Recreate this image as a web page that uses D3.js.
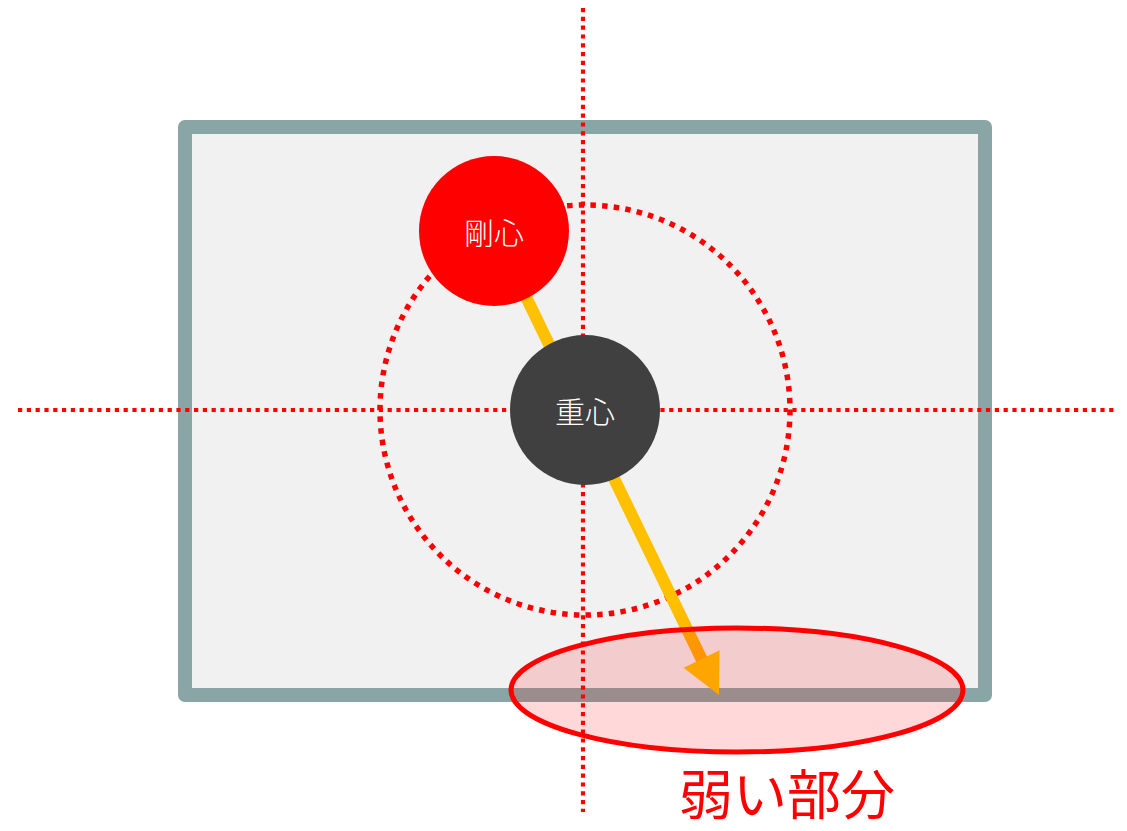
<!DOCTYPE html>
<html><head><meta charset="utf-8">
<script src="https://cdn.jsdelivr.net/npm/d3@7"></script>
<style>html,body{margin:0;padding:0;background:#fff;}svg{display:block;}</style>
</head><body>
<script>
// Diagram data in building units (centre of gravity at origin)
const building = [[-4, 2.83], [4, -2.85]];            // plan corners
const centerLabels = ["剛心", "重心"];
const centerPoints = [[-0.91, 1.79], [0, 0]];
const axisLinesX = [-5.67, 5.32];                        // horizontal dotted axis extent
const axisLinesY = [4.02, -4.02];                        // vertical dotted axis extent
const eccentricCircleR = [2.05];
const arrowTip = [1.34, -2.85];
const weakZone = [[1.52, -2.8], [2.26, 0.62]];           // centre, radii
const weakLabel = ["弱い部分"];

const W = 1127, H = 831;
const x = d3.scaleLinear().domain([-1, 1]).range([485, 685]);
const y = d3.scaleLinear().domain([-1, 1]).range([510, 310]);
const k = x(1) - x(0);

const svg = d3.select("body").append("svg").attr("width", W).attr("height", H);
const defs = svg.append("defs");

// building plan
svg.append("rect")
  .attr("x", x(building[0][0])).attr("y", y(building[0][1]))
  .attr("width", x(building[1][0]) - x(building[0][0]))
  .attr("height", y(building[1][1]) - y(building[0][1]))
  .attr("fill", "#f1f1f1").attr("stroke", "#8aa5a6").attr("stroke-width", 14)
  .attr("stroke-linejoin", "round");

const dot = {stroke: "#ff0000", w: 4.2, dash: "4.2 4.6"};
svg.append("line")
  .attr("x1", x(axisLinesX[0])).attr("x2", x(axisLinesX[1]))
  .attr("y1", y(0)).attr("y2", y(0))
  .attr("stroke", dot.stroke).attr("stroke-width", dot.w).attr("stroke-dasharray", dot.dash);
svg.append("line")
  .attr("x1", x(-0.02)).attr("x2", x(-0.02))
  .attr("y1", y(axisLinesY[0])).attr("y2", y(axisLinesY[1]))
  .attr("stroke", dot.stroke).attr("stroke-width", dot.w).attr("stroke-dasharray", dot.dash);
svg.append("circle")
  .attr("cx", x(0)).attr("cy", y(0)).attr("r", eccentricCircleR[0] * k)
  .attr("fill", "none").attr("stroke", dot.stroke).attr("stroke-width", 5.5)
  .attr("stroke-dasharray", "5.5 6.2");

// arrow from centre of rigidity through centre of gravity
const sx = x(centerPoints[0][0]), sy = y(centerPoints[0][1]);
const tx = x(arrowTip[0]), ty = y(arrowTip[1]);
const len = Math.hypot(tx - sx, ty - sy);
const ux = (tx - sx) / len, uy = (ty - sy) / len;
const hl = 40, hw = 20;
const bx = tx - ux * hl, by = ty - uy * hl;

const grad = defs.append("linearGradient").attr("id", "ag")
  .attr("gradientUnits", "userSpaceOnUse")
  .attr("x1", sx).attr("y1", sy).attr("x2", tx).attr("y2", ty);
grad.append("stop").attr("offset", "0").attr("stop-color", "#ffc000");
grad.append("stop").attr("offset", "0.8").attr("stop-color", "#ffc000");
grad.append("stop").attr("offset", "1").attr("stop-color", "#ffa200");

svg.append("line")
  .attr("x1", sx).attr("y1", sy).attr("x2", bx + ux * 2).attr("y2", by + uy * 2)
  .attr("stroke", "url(#ag)").attr("stroke-width", 12);

// centre circles
const fills = ["#ff0000", "#404040"];
const g = svg.selectAll("g.c").data(centerPoints).join("g").attr("class", "c");
g.append("circle").attr("cx", d => x(d[0])).attr("cy", d => y(d[1])).attr("r", 0.75 * k)
  .attr("fill", (d, i) => fills[i]);
g.append("text").attr("x", d => x(d[0])).attr("y", d => y(d[1]))
  .attr("text-anchor", "middle").attr("dominant-baseline", "central")
  .attr("font-family", "'Noto Sans CJK JP', sans-serif").attr("font-size", 30)
  .attr("font-weight", 300).attr("fill", "#ffffff")
  .text((d, i) => centerLabels[i]);

// weak zone
svg.append("ellipse")
  .attr("cx", x(weakZone[0][0])).attr("cy", y(weakZone[0][1]))
  .attr("rx", weakZone[1][0] * k).attr("ry", weakZone[1][1] * k)
  .attr("fill", "rgba(255,0,0,0.15)").attr("stroke", "#ff0000").attr("stroke-width", 5);

// arrow head
svg.append("path")
  .attr("d", `M${tx},${ty}L${bx - uy * hw},${by + ux * hw}L${bx + uy * hw},${by - ux * hw}Z`)
  .attr("fill", "#ffa500");

svg.append("text")
  .attr("x", 787).attr("y", 815)
  .attr("text-anchor", "middle")
  .attr("font-family", "'Noto Sans CJK JP', sans-serif").attr("font-size", 54)
  .attr("fill", "#ff0000")
  .text(weakLabel[0]);
</script>
</body></html>
